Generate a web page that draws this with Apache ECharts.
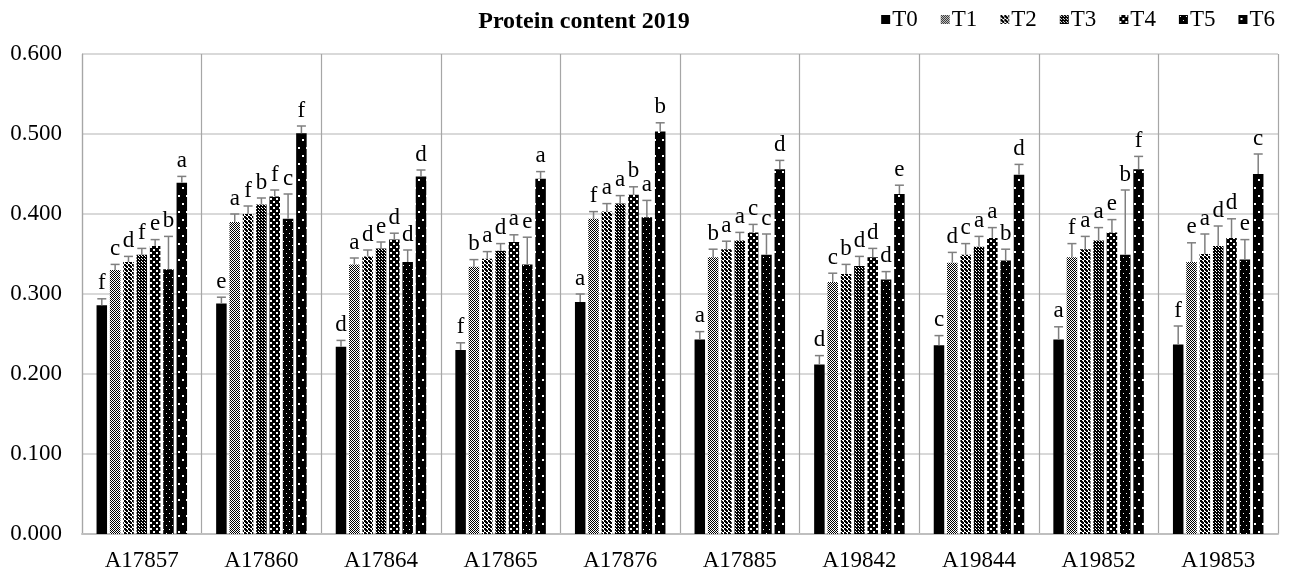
<!DOCTYPE html>
<html><head><meta charset="utf-8">
<script src="https://cdn.jsdelivr.net/npm/echarts@6/dist/echarts.min.js"></script>
<style>html,body{margin:0;padding:0;background:#fff}#c{width:1299px;height:575px}</style>
</head><body><div id="c"></div><script>
const categories = ['A17857','A17860','A17864','A17865','A17876','A17885','A19842','A19844','A19852','A19853'];
const seriesNames = ['T0','T1','T2','T3','T4','T5','T6'];
const yTicks = [0, 0.1, 0.2, 0.3, 0.4, 0.5, 0.6];

const T0 = [0.286,0.288,0.234,0.230,0.290,0.243,0.212,0.236,0.243,0.237];
const T1 = [0.330,0.390,0.337,0.334,0.394,0.346,0.315,0.339,0.346,0.340];
const T2 = [0.340,0.400,0.347,0.344,0.403,0.356,0.325,0.349,0.356,0.350];
const T3 = [0.349,0.412,0.357,0.354,0.413,0.367,0.335,0.359,0.367,0.360];
const T4 = [0.360,0.422,0.368,0.365,0.424,0.377,0.346,0.370,0.377,0.370];
const T5 = [0.331,0.394,0.340,0.337,0.396,0.349,0.318,0.342,0.349,0.343];
const T6 = [0.439,0.501,0.447,0.444,0.503,0.456,0.425,0.449,0.456,0.450];

const T0_err = [0.008,0.008,0.008,0.009,0.010,0.010,0.011,0.012,0.016,0.023];
const T1_err = [0.007,0.010,0.008,0.009,0.009,0.010,0.011,0.013,0.017,0.024];
const T2_err = [0.007,0.010,0.008,0.009,0.010,0.010,0.012,0.014,0.016,0.025];
const T3_err = [0.008,0.008,0.008,0.009,0.010,0.010,0.012,0.013,0.016,0.025];
const T4_err = [0.008,0.008,0.008,0.009,0.010,0.010,0.011,0.013,0.016,0.024];
const T5_err = [0.041,0.031,0.015,0.034,0.021,0.026,0.010,0.014,0.081,0.025];
const T6_err = [0.008,0.009,0.008,0.009,0.011,0.011,0.011,0.013,0.016,0.025];

const T0_sig = ['f','e','d','f','a','a','d','c','a','f'];
const T1_sig = ['c','a','a','b','f','b','c','d','f','e'];
const T2_sig = ['d','f','d','a','a','a','b','c','a','a'];
const T3_sig = ['f','b','e','d','a','a','d','a','a','d'];
const T4_sig = ['e','f','d','a','b','c','d','a','e','d'];
const T5_sig = ['b','c','d','e','a','c','d','b','b','e'];
const T6_sig = ['a','f','d','a','b','d','e','d','f','c'];

const values = [T0,T1,T2,T3,T4,T5,T6];
const errs = [T0_err,T1_err,T2_err,T3_err,T4_err,T5_err,T6_err];
const sigs = [T0_sig,T1_sig,T2_sig,T3_sig,T4_sig,T5_sig,T6_sig];

const FONT = 'Liberation Serif';
const BAR_W = 10.5;
const GAP_RATIO = 0.27;

function makePattern(w, h, bg, fg, rects) {
  const c = document.createElement('canvas');
  c.width = w; c.height = h;
  const g = c.getContext('2d');
  g.fillStyle = bg; g.fillRect(0, 0, w, h);
  g.fillStyle = fg;
  rects.forEach(r => g.fillRect(r[0], r[1], r[2], r[3]));
  return { image: c, repeat: 'repeat' };
}
const fills = [
  '#000000',
  makePattern(2, 2, '#fff', '#000', [[0,0,1,1],[1,1,1,1]]),
  makePattern(4, 4, '#fff', '#000', [[0,0,2,2],[2,2,2,2],[1,1,2,2]]),
  makePattern(3, 3, '#000', '#fff', [[1,1,1,1],[0,0,1,1]]),
  makePattern(6, 6, '#000', '#fff', [[0,0,2,2],[3,3,2,2]]),
  makePattern(6, 8, '#000', '#fff', [[1,1,1,1],[4,5,1,1]]),
  makePattern(8, 16, '#000', '#fff', [[2,3,2,2],[6,11,2,2]])
];

function offsetFor(i) {
  const gap = BAR_W * GAP_RATIO;
  const total = 7 * BAR_W + 6 * gap;
  return -total / 2 + i * (BAR_W + gap) + BAR_W / 2;
}

const barSeries = seriesNames.map((name, i) => ({
  name: name,
  type: 'bar',
  data: values[i],
  barWidth: BAR_W,
  barGap: (GAP_RATIO * 100) + '%',
  itemStyle: { color: fills[i] },
  z: 2
}));

const errSeries = seriesNames.map((name, i) => ({
  name: name + ' err',
  type: 'custom',
  z: 4,
  data: values[i].map((v, k) => [k, v, errs[i][k]]),
  renderItem: function (params, api) {
    const cat = api.value(0), v = api.value(1), e = api.value(2);
    const base = api.coord([cat, v]);
    const top = api.coord([cat, v + e]);
    const x = base[0] + offsetFor(i);
    const st = { stroke: '#7f7f7f', lineWidth: 1.5 };
    return {
      type: 'group',
      children: [
        { type: 'line', shape: { x1: x, y1: base[1], x2: x, y2: top[1] }, style: st },
        { type: 'line', shape: { x1: x - 4.5, y1: top[1], x2: x + 4.5, y2: top[1] }, style: st },
        { type: 'text', x: x, y: top[1] - 4,
          style: { text: sigs[i][params.dataIndex], textAlign: 'center', textVerticalAlign: 'bottom',
                   font: '23px "' + FONT + '"', fill: '#000' } }
      ]
    };
  }
}));

const chart = echarts.init(document.getElementById('c'));
chart.setOption({
  animation: false,
  title: {
    text: 'Protein content 2019', left: 579, textAlign: 'center', top: 5,
    textStyle: { fontFamily: FONT, fontSize: 24, fontWeight: 'bold', color: '#000' }
  },
  legend: {
    data: seriesNames, right: 19, top: 3, icon: 'rect', itemWidth: 9, itemHeight: 9, itemGap: 23,
    textStyle: { fontFamily: FONT, fontSize: 23, color: '#000', padding: [0, 0, 0, -3] }
  },
  grid: { left: 82, right: 21, top: 54, bottom: 41, containLabel: false },
  xAxis: {
    type: 'category', data: categories,
    axisLine: { show: true, lineStyle: { color: '#bfbfbf', width: 2 } },
    axisTick: { show: false },
    splitLine: { show: true, interval: 0, lineStyle: { color: '#a6a6a6', width: 1.2 } },
    axisLabel: { fontFamily: FONT, fontSize: 23, color: '#000', margin: 15 }
  },
  yAxis: {
    type: 'value', min: yTicks[0], max: yTicks[yTicks.length - 1], interval: 0.1,
    axisLine: { show: true, lineStyle: { color: '#a6a6a6', width: 1.2 } },
    axisTick: { show: false },
    splitLine: { show: true, lineStyle: { color: '#d9d9d9', width: 2 } },
    axisLabel: { fontFamily: FONT, fontSize: 23, color: '#000', margin: 20,
                 formatter: v => v.toFixed(3) }
  },
  series: barSeries.concat(errSeries)
});
</script></body></html>
